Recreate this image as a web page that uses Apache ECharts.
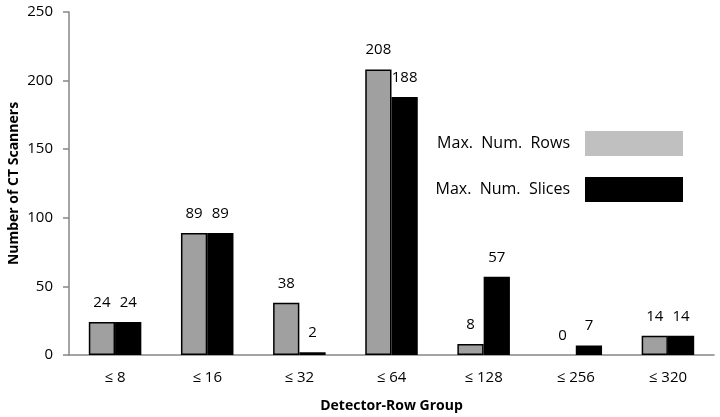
<!DOCTYPE html>
<html><head><meta charset="utf-8">
<script src="https://cdn.jsdelivr.net/npm/echarts@6/dist/echarts.min.js"></script>
<style>html,body{margin:0;padding:0;background:#fff}#c{width:720px;height:417px}</style>
</head><body><div id="c"></div>
<script>
const categories = ['≤ 8','≤ 16','≤ 32','≤ 64','≤ 128','≤ 256','≤ 320'];
const maxRows = [24, 89, 38, 208, 8, 0, 14];
const maxSlices = [24, 89, 2, 188, 57, 7, 14];
const yTicks = {min: 0, max: 250, interval: 50};
const seriesNames = ['Max.  Num.  Rows', 'Max.  Num.  Slices'];

const font = 'Open Sans';
const fs = 15;
const noBorderZero = arr => arr.map(v => v === 0 ? {value: v, itemStyle: {borderWidth: 0}} : v);
const chart = echarts.init(document.getElementById('c'));
chart.setOption({
  animation: false,
  textStyle: {fontFamily: font},
  grid: {left: 69, right: 6, top: 12, bottom: 62, containLabel: false, outerBoundsMode: 'none'},
  legend: {
    orient: 'vertical', align: 'right', right: 37, top: 131, padding: 0,
    itemWidth: 98, itemHeight: 25, itemGap: 21,
    icon: 'rect',
    textStyle: {fontFamily: font, fontSize: 16, color: '#000', padding: [0, 10, 0, 0]},
    data: [
      {name: seriesNames[0], icon: 'rect', itemStyle: {color: '#c0c0c0', borderWidth: 0}},
      {name: seriesNames[1], icon: 'rect', itemStyle: {color: '#000', borderWidth: 0}}
    ]
  },
  xAxis: {
    type: 'category', data: categories,
    axisLine: {lineStyle: {color: '#868686', width: 1.5}},
    axisTick: {show: false},
    axisLabel: {color: '#000', fontSize: fs, margin: 15, fontFamily: font},
    name: 'Detector-Row Group', nameLocation: 'middle', nameGap: 44, nameMoveOverlap: false,
    nameTextStyle: {fontWeight: 'bold', fontSize: 14, color: '#000', fontFamily: font}
  },
  yAxis: {
    type: 'value', min: yTicks.min, max: yTicks.max, interval: yTicks.interval,
    axisLine: {show: true, lineStyle: {color: '#868686', width: 1.5}},
    axisTick: {show: true, length: 6, lineStyle: {color: '#868686', width: 1.5}},
    splitLine: {show: false},
    axisLabel: {color: '#000', fontSize: fs, margin: 16, fontFamily: font},
    name: 'Number of CT Scanners', nameLocation: 'middle', nameGap: 48, nameMoveOverlap: false,
    nameTextStyle: {fontWeight: 'bold', fontSize: 14, color: '#000', fontFamily: font}
  },
  series: [
    {
      name: seriesNames[0], type: 'bar', data: noBorderZero(maxRows),
      barGap: '0%', barCategoryGap: '43%',
      itemStyle: {color: '#a0a0a0', borderColor: '#000', borderWidth: 1.5},
      label: {show: true, position: 'top', distance: 12, color: '#000', fontSize: fs, fontFamily: font}
    },
    {
      name: seriesNames[1], type: 'bar', data: noBorderZero(maxSlices),
      itemStyle: {color: '#000', borderColor: '#000', borderWidth: 1.5},
      label: {show: true, position: 'top', distance: 12, color: '#000', fontSize: fs, fontFamily: font}
    }
  ]
});
</script></body></html>
